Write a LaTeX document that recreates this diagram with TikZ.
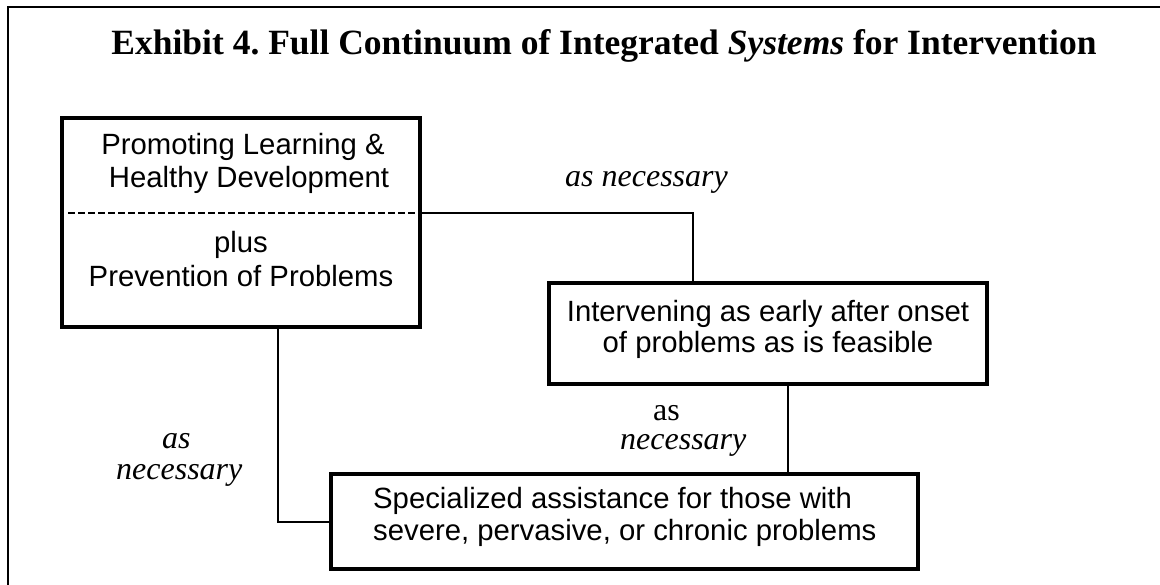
\documentclass[tikz,border=0pt]{standalone}
\usepackage{fontspec}
\setmainfont{Liberation Serif}
\newfontfamily\arialfont{Liberation Sans}
\frenchspacing
\begin{document}
\begin{tikzpicture}[x=1pt,y=-1pt,
  box/.style={draw, line width=3.2pt, inner sep=0pt, fill=none},
  conn/.style={draw, line width=2pt},
  sans/.style={inner sep=0pt, font=\arialfont\fontsize{29.3}{33}\selectfont},
  lbl/.style={inner sep=0pt, font=\fontsize{32}{#1}\selectfont},
  lbl/.default=30,
  ttl/.style={inner sep=0pt, font=\fontsize{35.5}{40}\selectfont\bfseries}]
\useasboundingbox (0,0) rectangle (1160,585);
% outer frame (only top and left edges visible)
\draw[line width=1.8pt] (8,600) -- (8,7) -- (1175,7);
% title
\node[ttl, anchor=base] (title) at (604,55) {Exhibit 4. Full Continuum of Integrated \textit{Systems} for Intervention};
% boxes
\node[box, minimum width=358pt, minimum height=209pt] (b1) at (241,222.5) {};
\node[box, minimum width=438pt, minimum height=101pt] (b2) at (768,333.5) {};
\node[box, minimum width=587pt, minimum height=95pt] (b3) at (624.5,521.5) {};
% box texts
\node[sans, anchor=base] (t1a) at (243,155) {Promoting Learning \&};
\node[sans, anchor=base] (t1b) at (249,188) {Healthy Development};
\node[sans, anchor=base] (t1c) at (241,253) {plus};
\node[sans, anchor=base] (t1d) at (241,287) {Prevention of Problems};
\node[sans, anchor=base] (t2a) at (768,322) {Intervening as early after onset};
\node[sans, anchor=base] (t2b) at (768,353) {of problems as is feasible};
\node[sans, anchor=base west] (t3a) at (373,508) {Specialized assistance for those with};
\node[sans, anchor=base west] (t3b) at (373,540) {severe, pervasive, or chronic problems};
% dashed divider inside box 1
\coordinate (dL) at (68,213);
\coordinate (dR) at (b1.east |- dL);
\draw[line width=1.3pt, dash pattern=on 7pt off 3pt] (dL) -- (dR);
% connectors
\coordinate (k1) at (693,213);
\coordinate (k2) at (788,400);
\coordinate (k3) at (278,400);
\draw[conn] (dR) -| (b2.north -| k1);
\draw[conn] (b2.south -| k2) -- (b3.north -| k2);
\draw[conn] (b1.south -| k3) |- (b3.west);
% labels
\node[lbl, anchor=base west] (l1) at (565,187) {\itshape as necessary};
\node[lbl=29, anchor=north west, align=left] (l2) at (620,405) {\hspace*{33pt}as\\\itshape necessary};
\node[lbl=31, anchor=north west, align=left] (l3) at (116,433) {\itshape\hspace*{46pt}as\\\itshape necessary};
\end{tikzpicture}
\end{document}
